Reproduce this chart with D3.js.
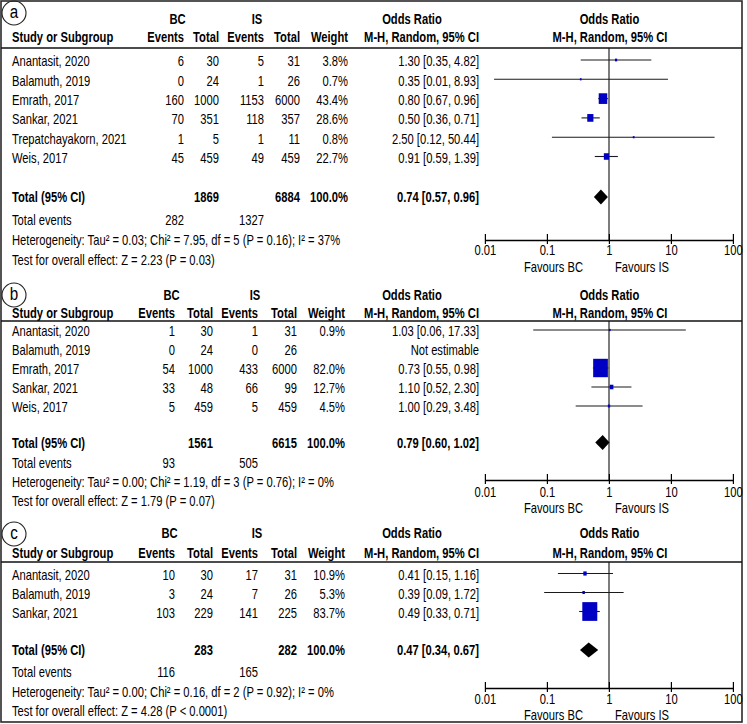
<!DOCTYPE html>
<html><head><meta charset="utf-8">
<script src="https://cdn.jsdelivr.net/npm/d3@7/dist/d3.min.js"></script>
<style>
body{margin:0;background:#fff}
svg{display:block}
text{font-family:"Liberation Sans",Arial,Helvetica,sans-serif;font-size:14px;fill:#000}
</style>
</head><body>
<svg id="chart" width="747" height="724"></svg>
<script>
// ---------------- DATA ----------------
const panelLabels = ["a", "b", "c"];
const axisTicks = [0.01, 0.1, 1, 10, 100];
const axisTickLabels = ["0.01", "0.1", "1", "10", "100"];
const groupNames = ["BC", "IS"];
const favoursLabels = ["Favours BC", "Favours IS"];
const totalWeightLabel = "100.0%";

// Panel a
const studiesA = ["Anantasit, 2020", "Balamuth, 2019", "Emrath, 2017", "Sankar, 2021", "Trepatchayakorn, 2021", "Weis, 2017"];
const bcEventsA = [6, 0, 160, 70, 1, 45];
const bcTotalA = [30, 24, 1000, 351, 5, 459];
const isEventsA = [5, 1, 1153, 118, 1, 49];
const isTotalA = [31, 26, 6000, 357, 11, 459];
const weightA = [3.8, 0.7, 43.4, 28.6, 0.8, 22.7];
const orA = [1.30, 0.35, 0.80, 0.50, 2.50, 0.91];
const loA = [0.35, 0.014, 0.67, 0.36, 0.12, 0.59];
const hiA = [4.82, 8.93, 0.96, 0.71, 50.44, 1.39];
const pooledA = [0.74, 0.57, 0.96];
const totalsA = [1869, 6884];
const totalEventsA = [282, 1327];
const hetA = "Heterogeneity: Tau\u00b2 = 0.03; Chi\u00b2 = 7.95, df = 5 (P = 0.16); I\u00b2 = 37%";
const testA = "Test for overall effect: Z = 2.23 (P = 0.03)";

// Panel b
const studiesB = ["Anantasit, 2020", "Balamuth, 2019", "Emrath, 2017", "Sankar, 2021", "Weis, 2017"];
const bcEventsB = [1, 0, 54, 33, 5];
const bcTotalB = [30, 24, 1000, 48, 459];
const isEventsB = [1, 0, 433, 66, 5];
const isTotalB = [31, 26, 6000, 99, 459];
const weightB = [0.9, null, 82.0, 12.7, 4.5];
const orB = [1.03, null, 0.73, 1.10, 1.00];
const loB = [0.06, null, 0.55, 0.52, 0.29];
const hiB = [17.33, null, 0.98, 2.30, 3.48];
const pooledB = [0.79, 0.60, 1.02];
const totalsB = [1561, 6615];
const totalEventsB = [93, 505];
const hetB = "Heterogeneity: Tau\u00b2 = 0.00; Chi\u00b2 = 1.19, df = 3 (P = 0.76); I\u00b2 = 0%";
const testB = "Test for overall effect: Z = 1.79 (P = 0.07)";

// Panel c
const studiesC = ["Anantasit, 2020", "Balamuth, 2019", "Sankar, 2021"];
const bcEventsC = [10, 3, 103];
const bcTotalC = [30, 24, 229];
const isEventsC = [17, 7, 141];
const isTotalC = [31, 26, 225];
const weightC = [10.9, 5.3, 83.7];
const orC = [0.41, 0.39, 0.49];
const loC = [0.15, 0.09, 0.33];
const hiC = [1.16, 1.72, 0.71];
const pooledC = [0.47, 0.34, 0.67];
const totalsC = [283, 282];
const totalEventsC = [116, 165];
const hetC = "Heterogeneity: Tau\u00b2 = 0.00; Chi\u00b2 = 0.16, df = 2 (P = 0.92); I\u00b2 = 0%";
const testC = "Test for overall effect: Z = 4.28 (P < 0.0001)";

// ---------------- LAYOUT ----------------
const SX = 0.8;              // horizontal compression of the whole figure
const X = v => v / SX;       // real pixel -> scaled group coordinate

const panels = [
  { label: panelLabels[0], studies: studiesA, bcE: bcEventsA, bcT: bcTotalA, isE: isEventsA, isT: isTotalA,
    w: weightA, or: orA, lo: loA, hi: hiA, pooled: pooledA, totals: totalsA, tev: totalEventsA, het: hetA, test: testA,
    L: { circ: 13, row1: 19, row2: 37.5, line: 48, rowStart: 61.5, step: 19.3, total: 197.5, tev: 220, het: 240.5, test: 260.5,
         axis: 240, tickLab: 250.5, fav: 267.5, cols: [184, 219, 264, 300, 348], bc: 177.5, is: 257 } },
  { label: panelLabels[1], studies: studiesB, bcE: bcEventsB, bcT: bcTotalB, isE: isEventsB, isT: isTotalB,
    w: weightB, or: orB, lo: loB, hi: hiB, pooled: pooledB, totals: totalsB, tev: totalEventsB, het: hetB, test: testB,
    L: { circ: 295, row1: 295, row2: 313.5, line: 321, rowStart: 331.5, step: 19, total: 443, tev: 463.5, het: 482.5, test: 501.5,
         axis: 480, tickLab: 492, fav: 508, cols: [175, 213, 258, 297, 345], bc: 171.5, is: 255 } },
  { label: panelLabels[2], studies: studiesC, bcE: bcEventsC, bcT: bcTotalC, isE: isEventsC, isT: isTotalC,
    w: weightC, or: orC, lo: loC, hi: hiC, pooled: pooledC, totals: totalsC, tev: totalEventsC, het: hetC, test: testC,
    L: { circ: 534, row1: 533.5, row2: 553, line: 562, rowStart: 575, step: 19, total: 650.5, tev: 672, het: 692, test: 711,
         axis: 688, tickLab: 699.5, fav: 715, cols: [175, 213, 258, 297, 345], bc: 169.5, is: 257 } }
];

const svg = d3.select("#chart");
svg.append("rect").attr("x", 0).attr("y", 0).attr("width", 747).attr("height", 724).attr("fill", "#fff");
svg.append("rect").attr("x", 1).attr("y", 1).attr("width", 741).attr("height", 721)
  .attr("fill", "none").attr("stroke", "#2a2a2a").attr("stroke-width", 1.6);

const g = svg.append("g").attr("transform", `scale(${SX},1)`);
const x = d3.scaleLog().domain([axisTicks[0], axisTicks[axisTicks.length - 1]]).range([X(485), X(733)]);
const boxSide = d3.scaleLinear().domain([0, 100]).range([2, 22]);
const BLUE = "#0000c4";

function txt(parent, xx, yy, s, anchor, bold, size) {
  const t = parent.append("text").attr("x", xx).attr("y", yy).attr("dy", "0.35em")
    .attr("text-anchor", anchor || "start").text(s);
  if (bold) t.attr("font-weight", "bold").style("font-weight", "bold");
  if (size) t.style("font-size", size + "px");
  return t;
}
function hline(parent, x1, x2, y, w, col) {
  parent.append("line").attr("x1", x1).attr("x2", x2).attr("y1", y).attr("y2", y)
    .attr("stroke", col || "#000").attr("stroke-width", w || 1).attr("vector-effect", "non-scaling-stroke");
}

panels.forEach(p => {
  const L = p.L;
  const pg = g.append("g");

  // panel letter in circle
  svg.append("circle").attr("cx", 14).attr("cy", L.circ).attr("r", 12)
    .attr("fill", "none").attr("stroke", "#222").attr("stroke-width", 1.1);
  pg.append("text").attr("x", X(14)).attr("y", L.circ + 5.5).attr("text-anchor", "middle")
    .style("font-size", "19px").text(p.label);

  // header
  txt(pg, X(L.bc), L.row1, groupNames[0], "middle", true);
  txt(pg, X(L.is), L.row1, groupNames[1], "middle", true);
  txt(pg, X(412), L.row1, "Odds Ratio", "middle", true);
  txt(pg, X(609.5), L.row1, "Odds Ratio", "middle", true);
  txt(pg, X(12), L.row2, "Study or Subgroup", "start", true);
  ["Events", "Total", "Events", "Total", "Weight"].forEach((h, i) => txt(pg, X(L.cols[i]), L.row2, h, "end", true));
  txt(pg, X(479), L.row2, "M-H, Random, 95% CI", "end", true);
  txt(pg, X(610), L.row2, "M-H, Random, 95% CI", "middle", true);
  hline(pg, X(1), X(742), L.line, 1.6, "#111");

  // line of no effect
  pg.append("line").attr("x1", x(1)).attr("x2", x(1)).attr("y1", L.line).attr("y2", L.axis)
    .attr("stroke", "#111").attr("stroke-width", 1.1).attr("vector-effect", "non-scaling-stroke");

  // study rows
  p.studies.forEach((s, i) => {
    const y = L.rowStart + i * L.step;
    txt(pg, X(12), y, s, "start");
    txt(pg, X(L.cols[0]), y, p.bcE[i], "end");
    txt(pg, X(L.cols[1]), y, p.bcT[i], "end");
    txt(pg, X(L.cols[2]), y, p.isE[i], "end");
    txt(pg, X(L.cols[3]), y, p.isT[i], "end");
    txt(pg, X(L.cols[4]), y, p.w[i] == null ? "" : p.w[i].toFixed(1) + "%", "end");
    const orTxt = p.or[i] == null ? "Not estimable"
      : `${p.or[i].toFixed(2)} [${p.lo[i].toFixed(2)}, ${p.hi[i].toFixed(2)}]`;
    txt(pg, X(479), y, orTxt, "end");
  });
  const mg = pg.append("g");
  p.studies.forEach((s, i) => {
    if (p.or[i] == null) return;
    const y = L.rowStart + i * L.step - 1.5;
    hline(mg, x(p.lo[i]), x(p.hi[i]), y, 1.1, "#1a1a1a");
  });
  p.studies.forEach((s, i) => {
    if (p.or[i] == null) return;
    const y = L.rowStart + i * L.step - 1.5;
    const side = boxSide(p.w[i]);
    mg.append("rect").attr("x", x(p.or[i]) - side / 2).attr("y", y - side / 2)
      .attr("width", side).attr("height", side).attr("fill", BLUE);
  });

  // total row
  txt(pg, X(12), L.total, "Total (95% CI)", "start", true);
  txt(pg, X(L.cols[1]), L.total, p.totals[0], "end", true);
  txt(pg, X(L.cols[3]), L.total, p.totals[1], "end", true);
  txt(pg, X(L.cols[4]), L.total, totalWeightLabel, "end", true);
  txt(pg, X(479), L.total,
    `${p.pooled[0].toFixed(2)} [${p.pooled[1].toFixed(2)}, ${p.pooled[2].toFixed(2)}]`, "end", true);
  const dy = L.total - 0.5, hh = 7.5;
  pg.append("path")
    .attr("d", `M${x(p.pooled[1])},${dy}L${x(p.pooled[0])},${dy - hh}L${x(p.pooled[2])},${dy}L${x(p.pooled[0])},${dy + hh}Z`)
    .attr("fill", "#000");

  txt(pg, X(12), L.tev, "Total events", "start");
  txt(pg, X(L.cols[0]), L.tev, p.tev[0], "end");
  txt(pg, X(L.cols[2]), L.tev, p.tev[1], "end");
  txt(pg, X(12), L.het, p.het, "start");
  txt(pg, X(12), L.test, p.test, "start");

  // axis
  const ax = pg.append("g").attr("transform", `translate(0,${L.axis})`)
    .call(d3.axisBottom(x).tickValues(axisTicks).tickFormat((d, i) => axisTickLabels[i]).tickSizeOuter(0).tickSizeInner(4));
  ax.attr("font-family", null).attr("font-size", null);
  ax.select(".domain").attr("stroke", "#000").attr("stroke-width", 1.4).attr("vector-effect", "non-scaling-stroke");
  ax.selectAll(".tick line").attr("y1", -6).attr("y2", 4).attr("stroke", "#000")
    .attr("stroke-width", 1.2).attr("vector-effect", "non-scaling-stroke");
  ax.selectAll(".tick text").attr("y", L.tickLab - L.axis).attr("dy", "0.35em").attr("fill", "#000");

  txt(pg, X(583), L.fav, favoursLabels[0], "end");
  txt(pg, X(615), L.fav, favoursLabels[1], "start");
});
</script>
</body></html>
